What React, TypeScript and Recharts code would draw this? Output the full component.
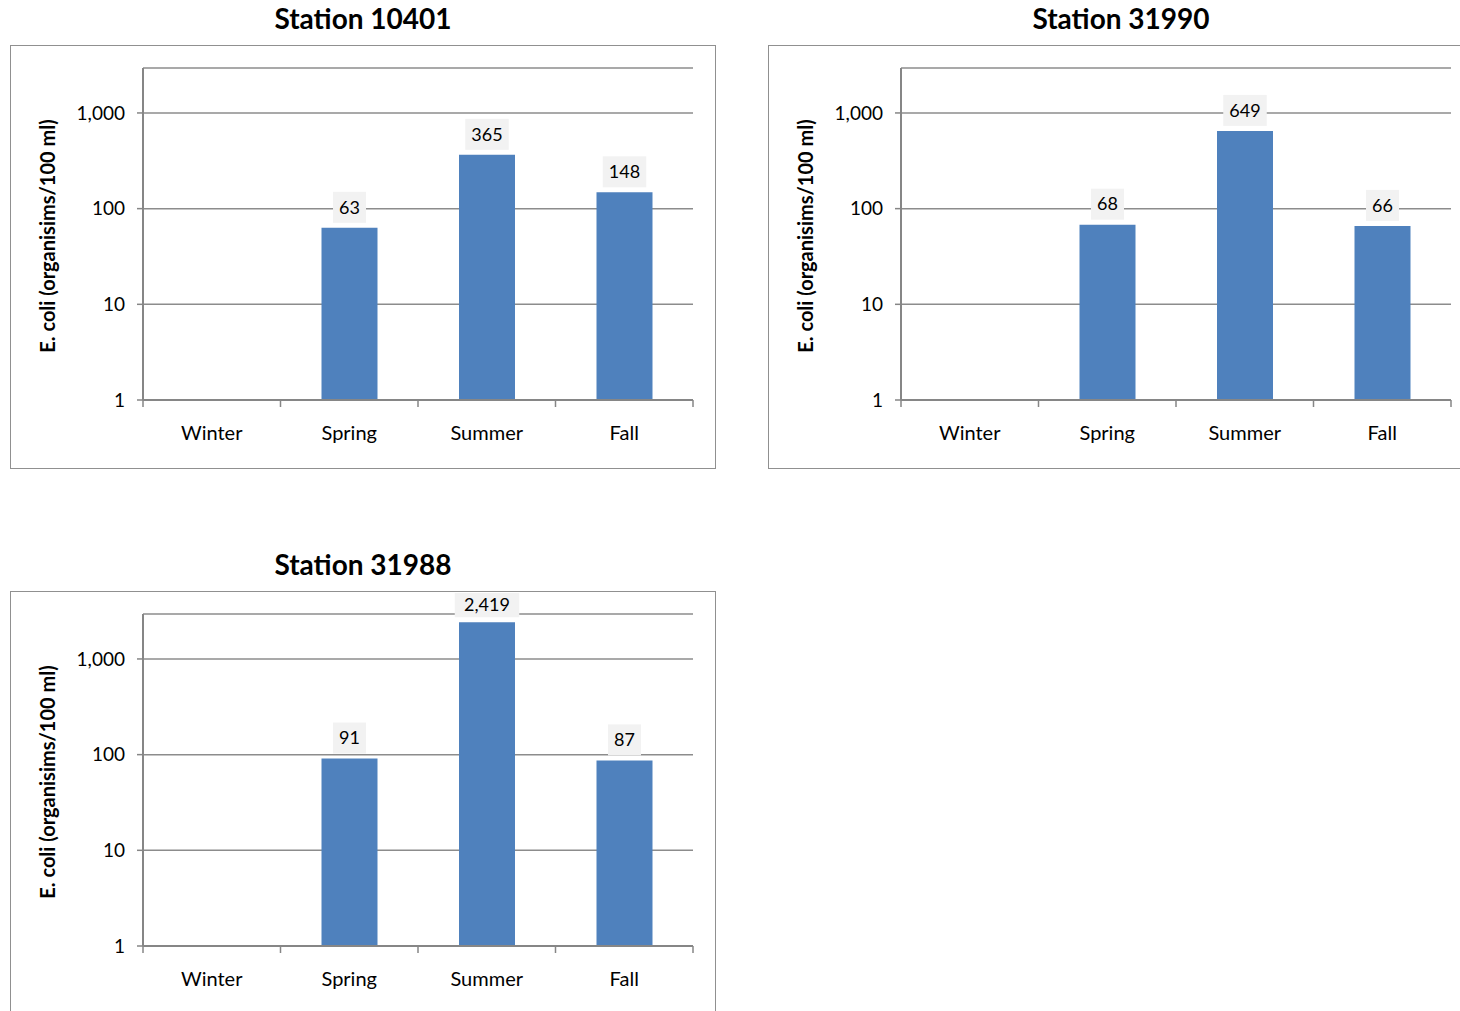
import React from "react";
import { BarChart, Bar, XAxis, YAxis, CartesianGrid } from "recharts";

const seasons = ["Winter", "Spring", "Summer", "Fall"];
const station10401 = [null, 63, 365, 148];
const station31990 = [null, 68, 649, 66];
const station31988 = [null, 91, 2419, 87];
const yTicks = [1, 10, 100, 1000];
const yDomainMax = 2950;
const yLabel = "E. coli (organisims/100 ml)";

const FONT = "Lato, 'Open Sans', sans-serif";
const BAR_COLOR = "#4f81bd";
const AXIS_COLOR = "#868686";
const GRID_COLOR = "#8c8c8c";
const BORDER_COLOR = "#b4b4b4";

const CHART_W = 704;
const CHART_H = 422;
const TICK_MARGIN = 26;

const fmt = (v: number) => v.toLocaleString("en-US");

const XTick = (props: any) => {
  const { x, y, payload, index, visibleTicksCount, width } = props;
  const band = width / visibleTicksCount;
  const axisY = y - TICK_MARGIN;
  const left = x - band / 2;
  return (
    <g>
      <line x1={left} x2={left} y1={axisY} y2={axisY + 7} stroke={AXIS_COLOR} strokeWidth={1.5} />
      {index === visibleTicksCount - 1 && (
        <line x1={x + band / 2} x2={x + band / 2} y1={axisY} y2={axisY + 7} stroke={AXIS_COLOR} strokeWidth={1.5} />
      )}
      <text x={x} y={y} dy="0.71em" textAnchor="middle" fontSize={20} fontFamily={FONT} fill="#000">
        {payload.value}
      </text>
    </g>
  );
};

const ValueLabel = (props: any) => {
  const { x, y, width, value } = props;
  if (value === null || value === undefined) return null;
  const text = fmt(value);
  const w = text.length * 10.5 + 12;
  const cx = x + width / 2;
  const bottom = y - 5;
  const top = Math.max(bottom - 31, 1);
  const h = bottom - top;
  return (
    <g>
      <rect x={cx - w / 2} y={top} width={w} height={h} fill="#f2f2f2" />
      <text x={cx} y={top + h / 2} dy="0.35em" textAnchor="middle" fontSize={18} fontFamily={FONT} fill="#000">
        {text}
      </text>
    </g>
  );
};

const YLabel = (props: any) => {
  const { viewBox } = props;
  const cx = viewBox.x + 36;
  const cy = viewBox.y + viewBox.height / 2 + 2;
  return (
    <text
      x={cx}
      y={cy}
      transform={`rotate(-90 ${cx} ${cy})`}
      textAnchor="middle"
      dominantBaseline="central"
      fontSize={20}
      fontWeight="bold"
      fontFamily={FONT}
      fill="#000"
    >
      {yLabel}
    </text>
  );
};

type PanelProps = { title: string; values: (number | null)[]; left: number; top: number };

const Panel = ({ title, values, left, top }: PanelProps) => {
  const data = seasons.map((s, i) => ({ season: s, value: values[i] }));
  return (
    <>
      <div
        style={{
          position: "absolute",
          left: left,
          width: 706,
          top: top - 45,
          textAlign: "center",
          fontFamily: FONT,
          fontWeight: "bold",
          fontSize: 28,
          lineHeight: "36px",
          color: "#000",
        }}
      >
        {title}
      </div>
      <div
        style={{
          position: "absolute",
          left: left,
          top: top,
          width: CHART_W,
          height: CHART_H,
          border: "1px solid #909090",
          background: "#fff",
        }}
      >
        <BarChart
          width={CHART_W}
          height={CHART_H}
          data={data}
          margin={{ top: 22, right: 22, bottom: 0, left: 0 }}
          barCategoryGap={0}
        >
          <CartesianGrid vertical={false} stroke={GRID_COLOR} strokeWidth={1.5} />
          <XAxis
            dataKey="season"
            height={68}
            tickLine={false}
            tickSize={0}
            tickMargin={TICK_MARGIN}
            axisLine={{ stroke: AXIS_COLOR, strokeWidth: 2 }}
            tick={<XTick />}
            interval={0}
          />
          <XAxis
            xAxisId="top"
            orientation="top"
            dataKey="season"
            height={0}
            tick={false}
            tickLine={false}
            axisLine={{ stroke: BORDER_COLOR, strokeWidth: 1.5 }}
          />
          <YAxis
            scale="log"
            domain={[1, yDomainMax]}
            ticks={yTicks}
            allowDataOverflow
            width={132}
            tickSize={6}
            tickMargin={12}
            tickLine={{ stroke: AXIS_COLOR, strokeWidth: 1.5 }}
            axisLine={{ stroke: AXIS_COLOR, strokeWidth: 2 }}
            tickFormatter={fmt}
            tick={{ fontSize: 19, fontFamily: FONT, fill: "#000" }}
            label={<YLabel />}
          />
          <YAxis
            yAxisId="right"
            orientation="right"
            width={0}
            tick={false}
            tickLine={false}
            axisLine={{ stroke: BORDER_COLOR, strokeWidth: 1.5 }}
          />
          <Bar dataKey="value" fill={BAR_COLOR} barSize={56} isAnimationActive={false} label={<ValueLabel />} />
        </BarChart>
      </div>
    </>
  );
};

export default function App() {
  return (
    <div style={{ position: "absolute", left: 0, top: 0, width: 1460, height: 1011, overflow: "hidden", background: "#fff" }}>
      <Panel title="Station 10401" values={station10401} left={10} top={45} />
      <Panel title="Station 31990" values={station31990} left={768} top={45} />
      <Panel title="Station 31988" values={station31988} left={10} top={591} />
    </div>
  );
}
